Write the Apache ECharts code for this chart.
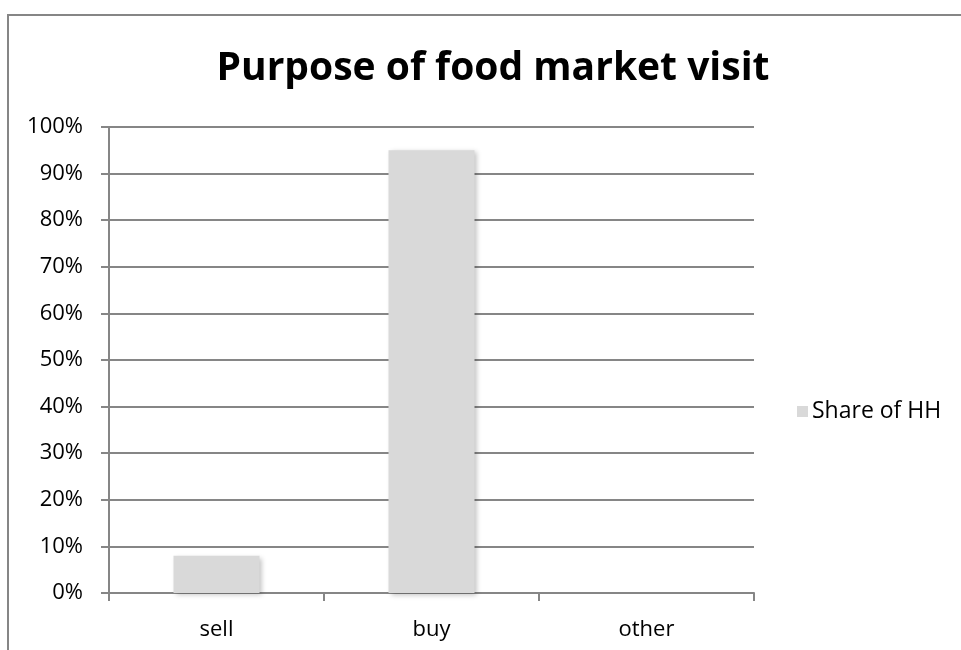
<!DOCTYPE html>
<html>
<head>
<meta charset="utf-8">
<script src="https://cdn.jsdelivr.net/npm/echarts@6/dist/echarts.min.js"></script>
<style>
  html, body { margin: 0; padding: 0; background: #fff; }
  #chart { width: 961px; height: 650px; }
</style>
</head>
<body>
<div id="chart"></div>
<script>
// Purpose of food market visit — share of households
const categories = ['sell', 'buy', 'other'];
const shareOfHH = [0.08, 0.95, 0];
const seriesName = 'Share of HH';
const chartTitle = 'Purpose of food market visit';

const FONT = '"Open Sans", Calibri, sans-serif';
const chart = echarts.init(document.getElementById('chart'));

chart.setOption({
  backgroundColor: '#ffffff',
  animation: false,
  title: {
    text: chartTitle,
    left: 488,
    textAlign: 'center',
    top: 44,
    textStyle: { fontFamily: FONT, fontWeight: 'bold', fontSize: 39, color: '#000' }
  },
  legend: {
    data: [seriesName],
    left: 792,
    top: 395,
    orient: 'vertical',
    icon: 'rect',
    itemWidth: 11,
    itemHeight: 11,
    itemGap: 4,
    textStyle: { fontFamily: FONT, fontSize: 23, color: '#000', padding: [0, 0, 0, -1] }
  },
  grid: { left: 109, right: 207, top: 127, bottom: 57, containLabel: false },
  xAxis: {
    type: 'category',
    data: categories,
    axisLine: { lineStyle: { color: '#868686', width: 2 } },
    axisTick: { show: true, length: 8, alignWithLabel: false, lineStyle: { color: '#868686', width: 2 } },
    axisLabel: { fontFamily: FONT, fontSize: 22, color: '#000', margin: 26 }
  },
  yAxis: {
    type: 'value',
    min: 0,
    max: 1,
    interval: 0.1,
    axisLine: { show: true, lineStyle: { color: '#868686', width: 2 } },
    axisTick: { show: true, length: 8, lineStyle: { color: '#868686', width: 2 } },
    splitLine: { lineStyle: { color: '#868686', width: 2 } },
    axisLabel: {
      fontFamily: FONT, fontSize: 22, color: '#000', margin: 26,
      formatter: v => Math.round(v * 100) + '%'
    }
  },
  series: [{
    name: seriesName,
    type: 'bar',
    data: shareOfHH,
    barWidth: '40%',
    itemStyle: {
      color: '#d9d9d9',
      shadowColor: 'rgba(0,0,0,0.25)',
      shadowBlur: 5,
      shadowOffsetX: 2,
      shadowOffsetY: 2
    }
  }],
  graphic: [{
    type: 'rect',
    silent: true,
    shape: { x: 8, y: 15, width: 1000, height: 700 },
    style: { fill: null, stroke: '#868686', lineWidth: 2 }
  }]
});
</script>
</body>
</html>
